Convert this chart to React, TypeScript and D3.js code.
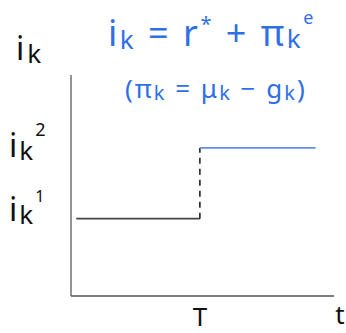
import React from 'react';
import * as d3 from 'd3';

// time points (arbitrary units) and rate levels
const lowTimes = [2, 49];
const highTimes = [49, 93];
const switchTime = 49;
const lowRate = 35;
const highRate = 67;
const tickLabels = ['T', 't'];

const W = 346;
const H = 333;
const BLUE = '#2f6fe6';

export default function App() {
  const x = d3.scaleLinear().domain([0, 100]).range([71, 334]);
  const y = d3.scaleLinear().domain([0, 100]).range([296, 75]);

  const line = d3.line<number[]>().x(d => x(d[0])).y(d => y(d[1]));
  const lowPath = line(lowTimes.map(t => [t, lowRate]));
  const highPath = line(highTimes.map(t => [t, highRate]));
  const jumpPath = line([[switchTime, lowRate], [switchTime, highRate]]);

  const font = "'Noto Sans', sans-serif";

  return (
    <svg width={W} height={H} style={{ position: 'absolute', left: 0, top: 0 }}>
      <rect width={W} height={H} fill="#fff" />
      {/* axes */}
      <line x1={x(0)} y1={y(0)} x2={x(0)} y2={y(100)} stroke="#666" strokeWidth={1.4} />
      <line x1={x(0)} y1={y(0)} x2={x(100)} y2={y(0)} stroke="#555" strokeWidth={1.4} />

      {/* step path */}
      <path d={lowPath || ''} stroke="#444" strokeWidth={1.6} fill="none" />
      <path d={jumpPath || ''} stroke="#222" strokeWidth={1.6} strokeDasharray="6,5" fill="none" />
      <path d={highPath || ''} stroke="#5b8fe8" strokeWidth={1.8} fill="none" />

      {/* axis labels */}
      <g fontFamily={font} fill="#111">
        <text x={16} y={60} fontSize={32} letterSpacing={3}>i<tspan fontSize={26} dy={3}>k</tspan></text>
        <text x={9} y={157} fontSize={32} letterSpacing={2}>i<tspan fontSize={26} dy={3}>k</tspan><tspan fontSize={18} dy={-24}>2</tspan></text>
        <text x={9} y={221} fontSize={32} letterSpacing={2}>i<tspan fontSize={26} dy={3}>k</tspan><tspan fontSize={16} dy={-22}>1</tspan></text>
        <text x={x(switchTime)} y={326} fontSize={26} textAnchor="middle">{tickLabels[0]}</text>
        <text x={340} y={324} fontSize={26} textAnchor="middle">{tickLabels[1]}</text>
      </g>

      {/* formula */}
      <g fontFamily={font} fill={BLUE}>
        <text x={108} y={46} fontSize={36} letterSpacing={2.5}>
          i<tspan fontSize={26} dy={3}>k</tspan><tspan dy={-3}> = r</tspan>
          <tspan fontSize={20} dy={-15}>*</tspan><tspan dy={15}> + π</tspan>
          <tspan fontSize={26} dy={2}>k</tspan><tspan fontSize={18} dy={-24}>e</tspan>
        </text>
        <text x={125} y={98} fontSize={26} letterSpacing={2}>
          (π<tspan fontSize={20} dy={2}>k</tspan><tspan dy={-2}> = μ</tspan>
          <tspan fontSize={20} dy={2}>k</tspan><tspan dy={-2}> − g</tspan>
          <tspan fontSize={20} dy={2}>k</tspan><tspan dy={-2}>)</tspan>
        </text>
      </g>
    </svg>
  );
}
